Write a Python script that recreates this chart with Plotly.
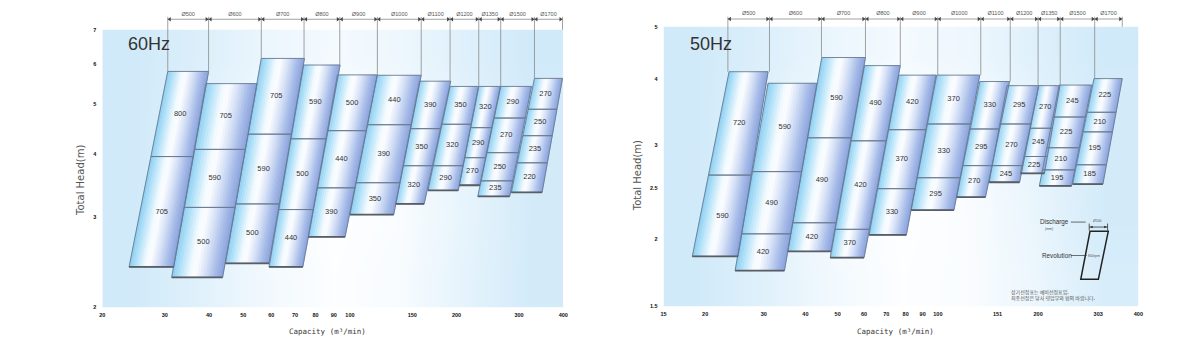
import numpy as np
import plotly.graph_objects as go

# ---------------- data ----------------
SIZES = ["Ø500", "Ø600", "Ø700", "Ø800", "Ø900", "Ø1000", "Ø1100", "Ø1200", "Ø1350", "Ø1500", "Ø1700"]

# 60 Hz : rpm of each cell (top to bottom), head boundaries (m, top to bottom),
# capacity of the left/right corner at the top and at the bottom of each column
hz60_rpm = [[800, 705], [705, 590, 500], [705, 590, 500], [590, 500, 440], [500, 440, 390],
            [440, 390, 350], [390, 350, 320], [350, 320, 290], [320, 290, 270],
            [290, 270, 250, 235], [270, 250, 235, 220]]
hz60_heads = [[5.80, 3.95, 2.40], [5.49, 4.08, 3.14, 2.29], [6.15, 4.37, 3.19, 2.44],
              [5.97, 4.28, 3.11, 2.40], [5.71, 4.44, 3.43, 2.75], [5.70, 4.56, 3.51, 3.04],
              [5.55, 4.48, 3.79, 3.19], [5.42, 4.57, 3.79, 3.39], [5.42, 4.50, 3.93, 3.47],
              [5.42, 4.70, 4.02, 3.54, 3.30], [5.62, 4.89, 4.34, 3.84, 3.36]]
hz60_q_top = [[30.6, 39.9], [39.2, 54.7], [56.2, 74.4], [74.0, 93.8], [92.2, 119.4], [119.4, 158.9],
              [157.2, 192.5], [191.7, 230.6], [231.0, 265.8], [266.4, 325.4], [331.8, 398.0]]
hz60_q_bot = [[23.8, 31.8], [31.4, 43.7], [44.5, 59.1], [59.1, 73.6], [76.3, 96.9], [100.0, 132.9],
              [134.6, 162.0], [166.0, 202.2], [203.5, 232.6], [229.6, 282.4], [285.4, 348.6]]
hz60_dim_edges = [30.6, 39.9, 56.2, 74.2, 93.6, 119.5, 158.9, 191.7, 231.0, 266.4, 331.8, 398.0]
hz60_xticks = [20, 30, 40, 50, 60, 70, 80, 90, 100, 150, 200, 300, 400]
hz60_yticks = [2, 3, 4, 5, 6, 7]

# 50 Hz
hz50_rpm = [[720, 590], [590, 490, 420], [590, 490, 420], [490, 420, 370], [420, 370, 330],
            [370, 330, 295], [330, 295, 270], [295, 270, 245], [270, 245, 225],
            [245, 225, 210, 195], [225, 210, 195, 185]]
hz50_heads = [[4.12, 2.64, 1.86], [3.92, 2.68, 2.05, 1.75], [4.38, 3.10, 2.15, 1.90],
              [4.23, 3.06, 2.09, 1.85], [4.06, 3.21, 2.49, 2.04], [4.06, 3.29, 2.61, 2.27],
              [3.95, 3.22, 2.75, 2.40], [3.88, 3.29, 2.75, 2.56], [3.88, 3.23, 2.86, 2.66],
              [3.89, 3.39, 2.97, 2.70, 2.52], [4.00, 3.46, 3.18, 2.76, 2.54]]
hz50_q_top = [[23.6, 30.9], [30.9, 43.3], [44.8, 60.6], [60.2, 77.1], [76.3, 98.7], [99.2, 133.6],
              [133.6, 164.1], [161.2, 200.8], [200.8, 232.5], [231.5, 289.7], [294.3, 357.8]]
hz50_q_bot = [[18.3, 25.1], [24.6, 34.6], [35.4, 47.7], [47.5, 60.0], [62.1, 80.4], [83.1, 111.7],
              [113.8, 138.9], [142.5, 175.9], [177.0, 208.8], [201.7, 252.0], [253.8, 313.0]]
hz50_dim_edges = [23.4, 31.2, 44.7, 60.6, 77.1, 99.9, 134.5, 164.9, 199.9, 233.0, 295.7, 357.8]
hz50_xticks = [15, 20, 30, 40, 50, 60, 70, 80, 90, 100, 151, 200, 303, 400]
hz50_yticks = [1.5, 2, 2.5, 3, 4, 5]

# ---------------- styling ----------------
W, H = 1200, 352
STOPS = [(0.0, (138, 205, 242)), (0.12, (170, 222, 248)), (0.36, (242, 250, 254)),
         (0.46, (252, 253, 255)), (0.62, (220, 230, 248)), (0.85, (166, 187, 232)),
         (1.0, (138, 162, 222))]
NSTRIP = 18


def strip_color(f):
    for (a, ca), (b, cb) in zip(STOPS[:-1], STOPS[1:]):
        if a <= f <= b:
            t = (f - a) / (b - a)
            c = [round(ca[i] + t * (cb[i] - ca[i])) for i in range(3)]
            return "rgb(%d,%d,%d)" % tuple(c)
    return "rgb(%d,%d,%d)" % STOPS[-1][1]


def lg(v):
    return np.log10(v)


def edge_q(qa, qb, ht, hb, h):
    t = (lg(ht) - lg(h)) / (lg(ht) - lg(hb))
    return 10 ** (lg(qa) + t * (lg(qb) - lg(qa)))


def along(ql, qr, f):
    return 10 ** (lg(ql) + f * (lg(qr) - lg(ql)))


fig = go.Figure()


def add_chart(xr, yr, rpm, heads, q_top, q_bot, dim_edges, dim_h, ext_top_h, lab_h,
              plot_top_h, bg_x, bg_y, bg_z, dq):
    # background gradient
    fig.add_trace(go.Heatmap(x=bg_x, y=bg_y, z=bg_z, zsmooth="best", showscale=False,
                             colorscale=[[0, "#d1eaf9"], [1, "#fdfeff"]], zmin=0, zmax=1,
                             hoverinfo="skip", xaxis=xr, yaxis=yr))
    # shaded strips (cylinder-like shading of each column)
    for k in range(NSTRIP):
        f0, f1 = k / NSTRIP, (k + 1) / NSTRIP
        xs, ys = [], []
        for c in range(len(rpm)):
            ht, hb = heads[c][0], heads[c][-1]
            (qlt, qrt), (qlb, qrb) = q_top[c], q_bot[c]
            xs += [along(qlt, qrt, f0), along(qlt, qrt, f1), along(qlb, qrb, f1),
                   along(qlb, qrb, f0), along(qlt, qrt, f0), None]
            ys += [ht, ht, hb, hb, ht, None]
        col = strip_color((f0 + f1) / 2)
        fig.add_trace(go.Scatter(x=xs, y=ys, mode="lines", fill="toself", fillcolor=col,
                                 line=dict(color=col, width=0.7), hoverinfo="skip",
                                 xaxis=xr, yaxis=yr))
    # outlines, bottom edges, labels
    ox, oy, bx, by, tx, ty, tt = [], [], [], [], [], [], []
    for c in range(len(rpm)):
        ht, hb = heads[c][0], heads[c][-1]
        (qlt, qrt), (qlb, qrb) = q_top[c], q_bot[c]
        for i, r in enumerate(rpm[c]):
            h0, h1 = heads[c][i], heads[c][i + 1]
            l0, r0 = edge_q(qlt, qlb, ht, hb, h0), edge_q(qrt, qrb, ht, hb, h0)
            l1, r1 = edge_q(qlt, qlb, ht, hb, h1), edge_q(qrt, qrb, ht, hb, h1)
            ox += [l0, r0, r1, l1, l0, None]
            oy += [h0, h0, h1, h1, h0, None]
            hm = 10 ** ((lg(h0) + lg(h1)) / 2)
            lm, rm = edge_q(qlt, qlb, ht, hb, hm), edge_q(qrt, qrb, ht, hb, hm)
            tx.append(along(lm, rm, 0.5))
            ty.append(hm)
            tt.append(str(r))
        bx += [qlb, qrb, None]
        by += [hb, hb, None]
    fig.add_trace(go.Scatter(x=ox, y=oy, mode="lines", line=dict(color="#6a7a90", width=0.9),
                             hoverinfo="skip", xaxis=xr, yaxis=yr))
    fig.add_trace(go.Scatter(x=bx, y=by, mode="lines", line=dict(color="#585d66", width=1.8),
                             hoverinfo="skip", xaxis=xr, yaxis=yr))
    fig.add_trace(go.Scatter(x=tx, y=ty, mode="text", text=tt,
                             textfont=dict(family="Liberation Sans, Arial", size=7.5, color="#333"),
                             hoverinfo="skip", xaxis=xr, yaxis=yr))
    # dimension bar
    tops = [heads[c][0] for c in range(len(rpm))]
    ex, ey = [], []
    for j, q in enumerate(dim_edges):
        if j == len(dim_edges) - 1:
            bot = plot_top_h
        else:
            cand = [tops[j]] + ([tops[j - 1]] if j > 0 else [])
            bot = max(cand)
        ex += [q, q, None]
        ey += [ext_top_h, bot, None]
    fig.add_trace(go.Scatter(x=ex, y=ey, mode="lines", line=dict(color="#8a8a8a", width=0.8),
                             hoverinfo="skip", xaxis=xr, yaxis=yr))
    fig.add_trace(go.Scatter(x=[dim_edges[0], dim_edges[-1]], y=[dim_h, dim_h], mode="lines",
                             line=dict(color="#8a8a8a", width=0.8), hoverinfo="skip",
                             xaxis=xr, yaxis=yr))
    fig.add_trace(go.Scatter(x=[q * dq for q in dim_edges[:-1]], y=[dim_h] * (len(dim_edges) - 1),
                             mode="markers", marker=dict(symbol="triangle-left", size=4, color="#444"),
                             hoverinfo="skip", xaxis=xr, yaxis=yr))
    fig.add_trace(go.Scatter(x=[q / dq for q in dim_edges[1:]], y=[dim_h] * (len(dim_edges) - 1),
                             mode="markers", marker=dict(symbol="triangle-right", size=4, color="#444"),
                             hoverinfo="skip", xaxis=xr, yaxis=yr))
    mids = [10 ** ((lg(a) + lg(b)) / 2) for a, b in zip(dim_edges[:-1], dim_edges[1:])]
    fig.add_trace(go.Scatter(x=mids, y=[lab_h] * len(mids), mode="text", text=SIZES,
                             textfont=dict(family="Liberation Sans, Arial", size=5.5, color="#555"),
                             hoverinfo="skip", xaxis=xr, yaxis=yr))


bg60_z = [[0.0, 0.35, 0.75, 0.98, 0.88, 0.45, 0.05],
          [0.0, 0.40, 0.85, 1.00, 0.92, 0.50, 0.05],
          [0.0, 0.40, 0.85, 1.00, 0.90, 0.50, 0.05],
          [0.0, 0.35, 0.80, 0.95, 0.85, 0.45, 0.05],
          [0.0, 0.25, 0.60, 0.80, 0.65, 0.30, 0.00]]
bg50_z = [[0.0, 0.35, 0.75, 0.98, 0.92, 0.60, 0.15],
          [0.0, 0.40, 0.85, 1.00, 0.92, 0.55, 0.05],
          [0.0, 0.40, 0.85, 1.00, 0.90, 0.50, 0.05],
          [0.0, 0.35, 0.80, 0.95, 0.85, 0.45, 0.05],
          [0.0, 0.25, 0.60, 0.80, 0.65, 0.30, 0.00]]

add_chart("x", "y", hz60_rpm, hz60_heads, hz60_q_top, hz60_q_bot, hz60_dim_edges,
          7.34, 7.42, 7.49, 7.0, np.geomspace(20, 400, 8), np.geomspace(2, 7, 6), bg60_z, 1.013)
add_chart("x2", "y2", hz50_rpm, hz50_heads, hz50_q_top, hz50_q_bot, hz50_dim_edges,
          5.17, 5.22, 5.28, 5.0, np.geomspace(15, 400, 8), np.geomspace(1.5, 5, 6), bg50_z, 1.014)


def px(x, y):
    return x / W, 1 - y / H


tickfont = dict(family="Liberation Sans, Arial", size=5.5, color="#111", weight=700)
axis_common = dict(type="log", showgrid=False, zeroline=False, showline=False, ticks="",
                   tickfont=tickfont, tickmode="array")

fig.update_layout(
    width=W, height=H, margin=dict(l=0, r=0, t=0, b=0),
    paper_bgcolor="white", plot_bgcolor="white", showlegend=False, hovermode=False,
    xaxis=dict(axis_common, domain=[100 / W, 564 / W], range=[lg(20), lg(400)],
               tickvals=hz60_xticks, ticktext=[str(v) for v in hz60_xticks],
               anchor="y", ticklabelstandoff=3),
    yaxis=dict(axis_common, domain=[1 - 310 / H, 1 - 8 / H], range=[lg(2), 0.8879],
               tickvals=hz60_yticks, ticktext=[str(v) for v in hz60_yticks],
               anchor="x", ticklabelstandoff=5),
    xaxis2=dict(axis_common, domain=[665 / W, 1143 / W], range=[lg(15), lg(400)],
                tickvals=hz50_xticks, ticktext=[str(v) for v in hz50_xticks],
                anchor="y2", ticklabelstandoff=3),
    yaxis2=dict(axis_common, domain=[1 - 309 / H, 1 - 8 / H], range=[lg(1.5), 0.73422],
                tickvals=hz50_yticks, ticktext=[str(v) for v in hz50_yticks],
                anchor="x2", ticklabelstandoff=5),
)

ann = []


def text(x, y, s, size, color="#333", family="Liberation Sans, Arial", xanchor="center", angle=0):
    xp, yp = px(x, y)
    ann.append(dict(x=xp, y=yp, xref="paper", yref="paper", text=s, showarrow=False,
                    font=dict(size=size, color=color, family=family), xanchor=xanchor,
                    yanchor="middle", textangle=angle))


text(124, 44, "60Hz", 18, "#333", xanchor="left")
text(690, 44, "50Hz", 18, "#333", xanchor="left")
text(78, 182, "Total Head(m)", 10, "#555", family="DejaVu Sans", angle=-90)
text(639, 177, "Total Head(m)", 10, "#555", family="DejaVu Sans", angle=-90)
text(327, 334, "Capacity (m³/min)", 7.5, "#333", family="DejaVu Sans Mono")
text(898, 334, "Capacity (m³/min)", 7.5, "#333", family="DejaVu Sans Mono")

# key (legend) in the 50 Hz chart
text(1059, 224, "Discharge", 6.3)
text(1053, 230.5, "(mm)", 3.5, "#555")
text(1102, 222.5, "Ø500", 3.5, "#555")
text(1061, 257.7, "Revolution", 6.3)
text(1098.5, 257.7, "800rpm", 3.5, "#555")
text(1013, 295, "상기선정표는 예비선정표임.", 5, "#555", family="Noto Sans CJK KR", xanchor="left")
text(1013, 300.5, "최종선정은 당사 영업부와 협의 바랍니다.", 5, "#555", family="Noto Sans CJK KR",
     xanchor="left")
fig.update_layout(annotations=ann)


def pth(points):
    s = ""
    for i, (x, y) in enumerate(points):
        xp, yp = px(x, y)
        s += ("M" if i == 0 else "L") + " %.5f %.5f " % (xp, yp)
    return s


shapes = [
    dict(type="path", xref="paper", yref="paper",
         path=pth([(1094.3, 233.3), (1112.7, 233.3), (1102.7, 281.7), (1085, 281.7)]) + "Z",
         line=dict(color="#222", width=1.5)),
    dict(type="path", xref="paper", yref="paper", path=pth([(1075, 224), (1090, 224)]),
         line=dict(color="#333", width=0.7)),
    dict(type="path", xref="paper", yref="paper", path=pth([(1075, 257.7), (1091, 257.7)]),
         line=dict(color="#333", width=0.7)),
    dict(type="path", xref="paper", yref="paper", path=pth([(1093.5, 229), (1112, 229)]),
         line=dict(color="#333", width=0.8)),
    dict(type="path", xref="paper", yref="paper", path=pth([(1093.5, 225.5), (1093.5, 232.5)]),
         line=dict(color="#333", width=0.8)),
    dict(type="path", xref="paper", yref="paper", path=pth([(1112, 225.5), (1112, 232.5)]),
         line=dict(color="#333", width=0.8)),
    dict(type="path", xref="paper", yref="paper",
         path=pth([(1093.8, 229), (1097, 227.8), (1097, 230.2)]) + "Z",
         fillcolor="#333", line=dict(width=0)),
    dict(type="path", xref="paper", yref="paper",
         path=pth([(1111.7, 229), (1108.5, 227.8), (1108.5, 230.2)]) + "Z",
         fillcolor="#333", line=dict(width=0)),
]
fig.update_layout(shapes=shapes)

fig.write_html("out.html")
